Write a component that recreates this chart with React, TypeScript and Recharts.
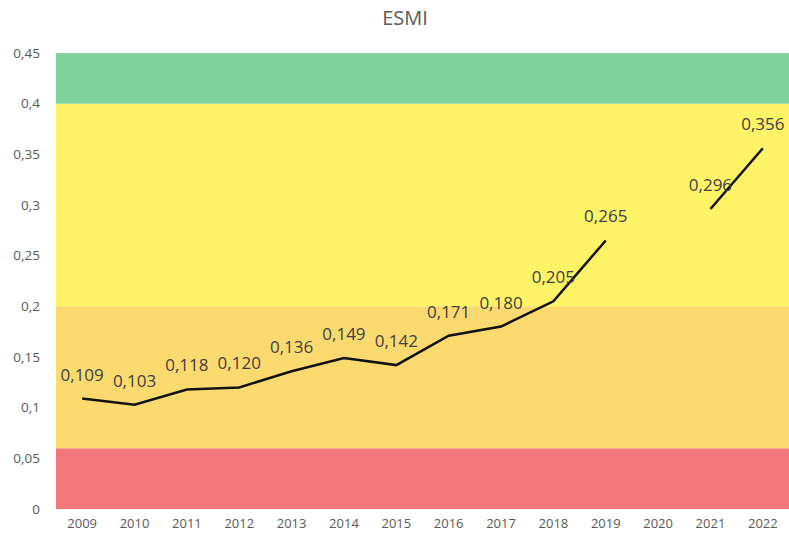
import React from "react";
import {
  ComposedChart,
  Line,
  XAxis,
  YAxis,
  ReferenceArea,
  LabelList,
} from "recharts";

const years = [
  "2009", "2010", "2011", "2012", "2013", "2014", "2015",
  "2016", "2017", "2018", "2019", "2020", "2021", "2022",
];
const esmi: (number | null)[] = [
  0.109, 0.103, 0.118, 0.12, 0.136, 0.149, 0.142,
  0.171, 0.18, 0.205, 0.265, null, 0.296, 0.356,
];
const yTicks = [0, 0.05, 0.1, 0.15, 0.2, 0.25, 0.3, 0.35, 0.4, 0.45];

// background zones: [from, to]
const zoneLimits = [
  [0, 0.06],
  [0.06, 0.2],
  [0.2, 0.4],
  [0.4, 0.45],
];
const zoneColors = ["#f2787c", "#fcda6f", "#fff467", "#7fd39a"];

const data = years.map((year, i) => ({ year, esmi: esmi[i] }));

const comma = (v: number) => String(v).replace(".", ",");
const label = (v: any) => (v == null ? "" : Number(v).toFixed(3).replace(".", ","));

const FONT = "'Open Sans', sans-serif";

export default function App() {
  return (
    <div
      style={{
        position: "absolute",
        left: 0,
        top: 0,
        width: 789,
        height: 540,
        background: "#fff",
        fontFamily: FONT,
      }}
    >
      <div
        style={{
          position: "absolute",
          top: 4,
          left: 0,
          width: 810,
          textAlign: "center",
          fontSize: 20,
          color: "#595959",
        }}
      >
        ESMI
      </div>
      <ComposedChart
        width={789}
        height={540}
        data={data}
        margin={{ top: 53, right: 0, bottom: 0, left: 0 }}
      >
        <XAxis
          dataKey="year"
          scale="band"
          axisLine={false}
          tickLine={false}
          tickMargin={4}
          height={31}
          interval={0}
          tick={{ fill: "#595959", fontSize: 13, fontFamily: FONT }}
        />
        <YAxis
          domain={[0, 0.45]}
          ticks={yTicks}
          width={56}
          axisLine={false}
          tickLine={false}
          tickMargin={10}
          tickFormatter={comma}
          tick={{ fill: "#595959", fontSize: 13.5, fontFamily: FONT }}
        />
        {zoneLimits.map(([a, b], i) => (
          <ReferenceArea
            key={i}
            y1={a}
            y2={b}
            fill={zoneColors[i]}
            fillOpacity={1}
            stroke="none"
          />
        ))}
        <Line
          dataKey="esmi"
          stroke="#111"
          strokeWidth={2.5}
          dot={false}
          activeDot={false}
          connectNulls={false}
          isAnimationActive={false}
        >
          <LabelList
            dataKey="esmi"
            position="top"
            offset={18}
            formatter={label}
            style={{ fill: "#404040", fontSize: 17, fontFamily: FONT }}
          />
        </Line>
      </ComposedChart>
    </div>
  );
}
